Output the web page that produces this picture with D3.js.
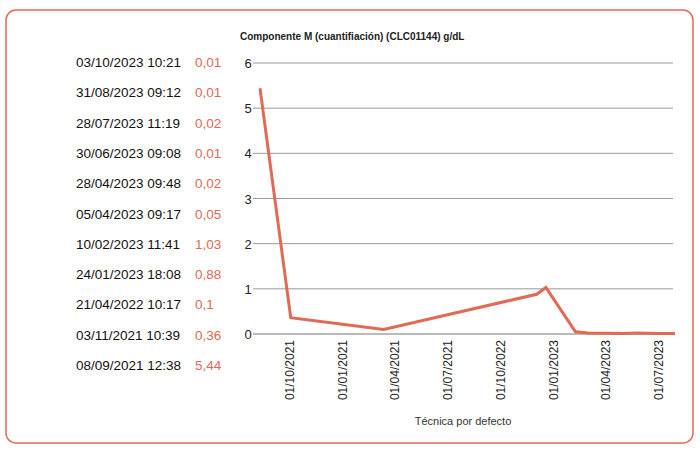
<!DOCTYPE html><html><head><meta charset="utf-8"><script src="https://cdn.jsdelivr.net/npm/d3@7"></script>
<style>body{margin:0;background:#fff}</style></head><body><svg id="c" width="700" height="457"></svg><script>
const dates=["08/09/2021 12:38","03/11/2021 10:39","21/04/2022 10:17","24/01/2023 18:08","10/02/2023 11:41","05/04/2023 09:17","28/04/2023 09:48","30/06/2023 09:08","28/07/2023 11:19","31/08/2023 09:12","03/10/2023 10:21"];
const labels=["08/09/2021 12:38","03/11/2021 10:39","21/04/2022 10:17","24/01/2023 18:08","10/02/2023 11:41","05/04/2023 09:17","28/04/2023 09:48","30/06/2023 09:08","28/07/2023 11:19","31/08/2023 09:12","03/10/2023 10:21"];
const values=[5.44,0.36,0.1,0.88,1.03,0.05,0.02,0.01,0.02,0.01,0.01];
const valueLabels=["5,44","0,36","0,1","0,88","1,03","0,05","0,02","0,01","0,02","0,01","0,01"];
const xTicks=["01/10/2021","01/01/2021","01/04/2021","01/07/2021","01/10/2022","01/01/2023","01/04/2023","01/07/2023"];
const yTicks=[0,1,2,3,4,5,6];
const parse=d3.timeParse("%d/%m/%Y %H:%M");
const svg=d3.select("#c");
const red="#e06a55";
svg.append("rect").attr("x",6).attr("y",10).attr("width",687).attr("height",433).attr("rx",10).attr("fill","none").attr("stroke",red).attr("stroke-width",1.5);
const rowY=d3.scalePoint().domain(d3.range(11)).range([62,365]);
const rev=d3.range(11).reverse();
const tg=svg.append("g");
rev.forEach((i,k)=>{
 tg.append("text").attr("x",76).attr("y",rowY(k)+5).attr("font-family","Liberation Sans, Arial").attr("font-size",13.5).attr("fill","#111").text(labels[i]);
 tg.append("text").attr("x",195).attr("y",rowY(k)+5).attr("font-family","Liberation Sans, Arial").attr("font-size",13.5).attr("fill",red).text(valueLabels[i]);
});
const y=d3.scaleLinear().domain([0,6]).range([334,63]);
const x=d3.scaleTime().domain([parse(dates[0]),parse(dates[10])]).range([260,675]);
const xt=d3.scalePoint().domain(xTicks).range([290,659]);
svg.append("g").selectAll("line").data(yTicks).join("line").attr("x1",253).attr("x2",673).attr("y1",d=>y(d)).attr("y2",d=>y(d)).attr("stroke",d=>d===0?"#777":"#999").attr("stroke-width",1);
svg.append("g").selectAll("text").data(yTicks).join("text").attr("x",248).attr("y",d=>y(d)+5).attr("text-anchor","middle").attr("font-family","Liberation Sans, Arial").attr("font-size",13).attr("fill","#222").text(d=>d);
svg.append("g").selectAll("text").data(xTicks).join("text").attr("transform",d=>`translate(${xt(d)+4},340) rotate(-90)`).attr("text-anchor","end").attr("font-family","Liberation Sans, Arial").attr("font-size",12).attr("fill","#222").text(d=>d);
svg.append("path").datum(values.map((v,i)=>[parse(dates[i]),v])).attr("d",d3.line().x(d=>x(d[0])).y(d=>y(d[1]))).attr("fill","none").attr("stroke",red).attr("stroke-width",3);
svg.append("text").attr("x",240).attr("y",40).attr("font-family","Liberation Sans, Arial").attr("font-weight","bold").attr("font-size",10).attr("fill","#222").text("Componente M (cuantifiación) (CLC01144) g/dL");
svg.append("text").attr("x",463).attr("y",425).attr("text-anchor","middle").attr("font-family","Liberation Sans, Arial").attr("font-size",11).attr("fill","#333").text("Técnica por defecto");
</script></body></html>
